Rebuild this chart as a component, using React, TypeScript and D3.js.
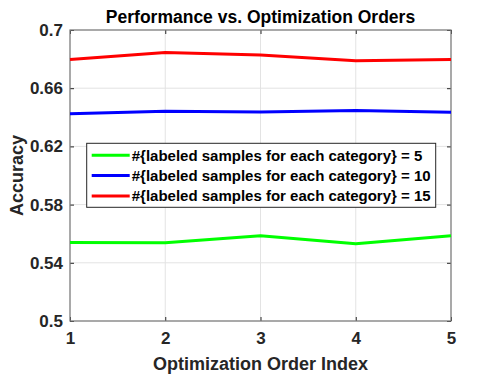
import React from 'react';
import * as d3 from 'd3';

const orders = [1, 2, 3, 4, 5];
const acc5 = [0.554, 0.5537, 0.5586, 0.5531, 0.5586];
const acc10 = [0.6425, 0.6441, 0.6437, 0.6446, 0.6434];
const acc15 = [0.6798, 0.6846, 0.6828, 0.6788, 0.6798];
const yTicks = [0.5, 0.54, 0.58, 0.62, 0.66, 0.7];
const legendLabels = [
  '#{labeled samples for each category} = 5',
  '#{labeled samples for each category} = 10',
  '#{labeled samples for each category} = 15',
];
const colors = ['#00ff00', '#0000ff', '#ff0000'];

const width = 498;
const height = 380;
const margin = {top: 30, right: 47, bottom: 59, left: 70};
const font = '"Liberation Sans", Arial, Helvetica, sans-serif';

const App = () => {
  const renderChart = (ref: SVGSVGElement) => {
    ref.innerHTML = '';
    const w = width - margin.left - margin.right;
    const h = height - margin.top - margin.bottom;

    const x = d3.scaleLinear().domain([1, 5]).range([0, w]);
    const y = d3.scaleLinear().domain([0.5, 0.7]).range([h, 0]);

    const svg = d3.select(ref);
    svg.append('rect').attr('width', width).attr('height', height).attr('fill', '#fff');

    const g = svg.append('g').attr('transform', `translate(${margin.left}, ${margin.top})`);

    // grid
    g.selectAll('.gx')
      .data(orders)
      .enter().append('line')
      .attr('x1', d => x(d)).attr('x2', d => x(d))
      .attr('y1', 0).attr('y2', h)
      .attr('stroke', '#e3e3e3').attr('stroke-width', 1);
    g.selectAll('.gy')
      .data(yTicks)
      .enter().append('line')
      .attr('y1', d => y(d)).attr('y2', d => y(d))
      .attr('x1', 0).attr('x2', w)
      .attr('stroke', '#e3e3e3').attr('stroke-width', 1);

    // axes with inward ticks, labels
    const xAxis = d3.axisBottom(x).tickValues(orders).tickFormat(d3.format('d')).tickSizeInner(-4).tickSizeOuter(0).tickPadding(11);
    const yAxis = d3.axisLeft(y).tickValues(yTicks).tickFormat(d => String(+d)).tickSizeInner(-4).tickSizeOuter(0).tickPadding(7);
    const xTop = d3.axisTop(x).tickValues(orders).tickFormat(() => '').tickSizeInner(-4).tickSizeOuter(0);
    const yRight = d3.axisRight(y).tickValues(yTicks).tickFormat(() => '').tickSizeInner(-4).tickSizeOuter(0);

    const styleAxis = (sel: any) => {
      sel.select('.domain').remove();
      sel.selectAll('line').attr('stroke', '#262626');
      sel.selectAll('text')
        .attr('fill', '#262626')
        .style('font-family', font)
        .style('font-size', '17px')
        .style('font-weight', 'bold');
    };

    g.append('g').attr('transform', `translate(0, ${h})`).call(xAxis).call(styleAxis);
    g.append('g').call(yAxis).call(styleAxis);
    g.append('g').call(xTop).call(styleAxis);
    g.append('g').attr('transform', `translate(${w}, 0)`).call(yRight).call(styleAxis);

    // box
    g.append('rect')
      .attr('width', w).attr('height', h)
      .attr('fill', 'none').attr('stroke', '#7a7a7a').attr('stroke-width', 1.2);

    // lines
    const line = d3.line<number>()
      .x((d, i) => x(orders[i]))
      .y(d => y(d));
    [acc5, acc10, acc15].forEach((series, i) => {
      g.append('path')
        .datum(series)
        .attr('d', line)
        .attr('fill', 'none')
        .attr('stroke', colors[i])
        .attr('stroke-width', 3)
        .attr('stroke-linejoin', 'round');
    });

    // legend
    const legend = g.append('g').attr('transform', 'translate(16.7, 113.3)');
    legend.append('rect')
      .attr('x', 0).attr('y', 0)
      .attr('width', 349).attr('height', 64)
      .attr('fill', '#fff').attr('stroke', '#262626').attr('stroke-width', 1);
    legendLabels.forEach((label, i) => {
      const ly = 12 + i * 20.3;
      legend.append('line')
        .attr('x1', 5).attr('x2', 43)
        .attr('y1', ly).attr('y2', ly)
        .attr('stroke', colors[i]).attr('stroke-width', 3);
      legend.append('text')
        .attr('x', 45).attr('y', ly + 5.5)
        .attr('fill', '#000')
        .style('font-family', font)
        .style('font-size', '15px')
        .style('font-weight', 'bold')
        .text(label);
    });

    // title
    svg.append('text')
      .attr('x', margin.left + w / 2).attr('y', 23)
      .attr('text-anchor', 'middle')
      .style('font-family', font).style('font-size', '17.5px').style('font-weight', 'bold')
      .text('Performance vs. Optimization Orders');

    // x label
    svg.append('text')
      .attr('x', margin.left + w / 2).attr('y', 370)
      .attr('text-anchor', 'middle')
      .attr('fill', '#262626')
      .style('font-family', font).style('font-size', '18px').style('font-weight', 'bold')
      .text('Optimization Order Index');

    // y label
    svg.append('text')
      .attr('transform', `translate(23, ${margin.top + h / 2}) rotate(-90)`)
      .attr('text-anchor', 'middle')
      .attr('fill', '#262626')
      .style('font-family', font).style('font-size', '18px').style('font-weight', 'bold')
      .text('Accuracy');
  };

  return (
    <svg
      width={width}
      height={height}
      style={{display: 'block', position: 'absolute', left: 0, top: 0}}
      ref={ref => { if (ref !== null) renderChart(ref); }}
    />
  );
};

export default App;
